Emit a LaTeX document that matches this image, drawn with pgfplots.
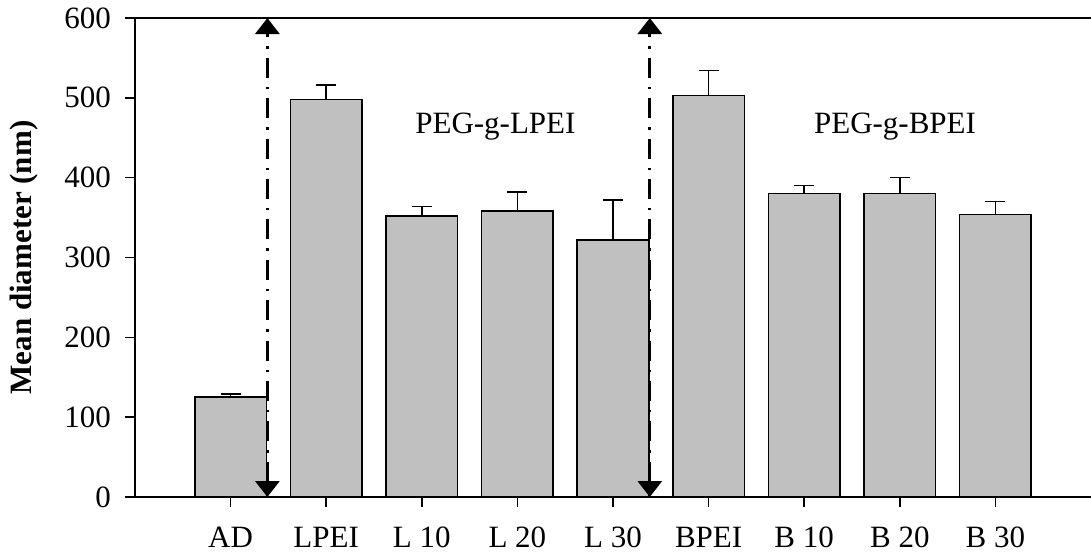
\documentclass[border=0pt]{standalone}
\usepackage{fontspec}
\setmainfont{Liberation Serif}
\usepackage{pgfplots}
\usepackage{pgfplotstable}
\pgfplotsset{compat=1.18}
\usetikzlibrary{arrows.meta}
\definecolor{barg}{RGB}{192,192,192}
\pgfplotstableread{
x y e
0 125 4
1 498 18
2 352 12
3 358 24
4 322 50
5 503 31
6 380 10
7 380 20
8 354 16
}\datatable
\begin{document}
\begin{tikzpicture}
\useasboundingbox (-67.5pt,-30pt) rectangle (478pt,248.5pt);
\begin{axis}[
  at={(0,0)}, anchor=south west,
  scale only axis, width=478pt, height=239.5pt,
  xmin=-1, xmax=9, ymin=0, ymax=600,
  axis x line*=box, axis y line*=left,
  x axis line style={-}, y axis line style={-},
  axis line style={black, line width=0.8pt},
  xtick={0,...,8},
  xticklabels={AD,LPEI,L 10,L 20,L 30,BPEI,B 10,B 20,B 30},
  ytick={0,100,...,600},
  xtick pos=bottom, ytick pos=left,
  tick align=outside, major tick length=5pt,
  tick style={black, line width=0.8pt},
  minor tick num=0,
  every tick label/.append style={font=\fontsize{15.5}{18}\selectfont},
  xticklabel style={yshift=-6.5pt},
  yticklabel style={xshift=-3.5pt},
  /pgf/number format/assume math mode=true,
  ylabel={Mean diameter (nm)},
  every axis y label/.style={at={(axis description cs:-0.116,0.5)}, anchor=center, rotate=90,
    font=\bfseries\fontsize{15.5}{18}\selectfont},
  clip=false,
]
\addplot[ybar, bar width=0.75, fill=barg, draw=black, line width=0.8pt,
  error bars/.cd, y dir=plus, y explicit,
  error bar style={black, line width=0.8pt},
  error mark options={rotate=90, mark size=5pt, black, line width=0.8pt}]
  table[x=x, y=y, y error=e]{\datatable};
\addplot[black, line width=1.6pt, mark=none,
  dash pattern=on 10pt off 4.5pt on 1.2pt off 4.5pt,
  {Triangle[width=12pt,length=8pt]}-{Triangle[width=12pt,length=8pt]}]
  coordinates {(0.385,0) (0.385,600)};
\addplot[black, line width=1.6pt, mark=none,
  dash pattern=on 10pt off 4.5pt on 1.2pt off 4.5pt,
  {Triangle[width=12pt,length=8pt]}-{Triangle[width=12pt,length=8pt]}]
  coordinates {(4.385,0) (4.385,600)};
\node[anchor=base, font=\fontsize{15.5}{18}\selectfont] at (axis cs:2.77,455) {PEG-g-LPEI};
\node[anchor=base, font=\fontsize{15.5}{18}\selectfont] at (axis cs:6.95,455) {PEG-g-BPEI};
\end{axis}
\end{tikzpicture}
\end{document}
